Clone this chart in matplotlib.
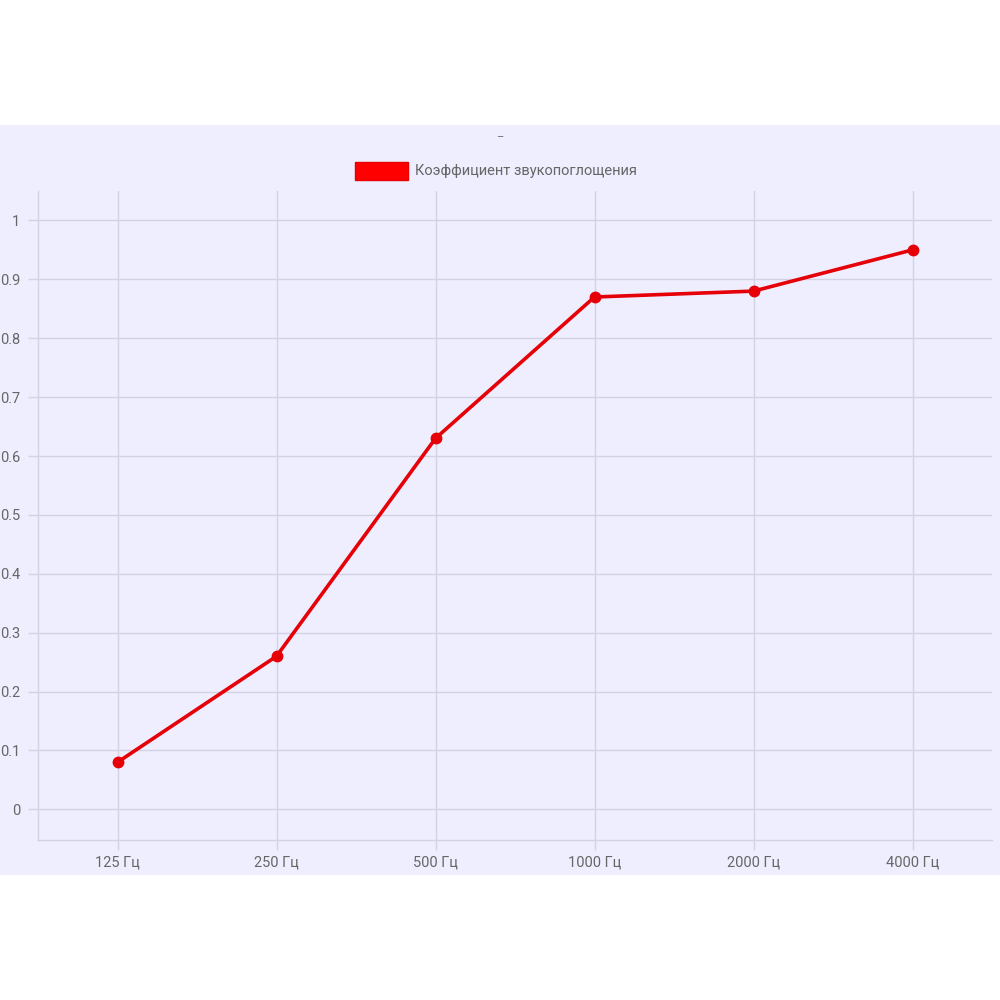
import matplotlib
matplotlib.use("Agg")
import matplotlib.pyplot as plt
import matplotlib.patches as patches

# Данные
categories = ['125 Гц', '250 Гц', '500 Гц', '1000 Гц', '2000 Гц', '4000 Гц']
values = [0.08, 0.26, 0.63, 0.87, 0.88, 0.95]
y_ticks = [0, 0.1, 0.2, 0.3, 0.4, 0.5, 0.6, 0.7, 0.8, 0.9, 1]
series_name = 'Коэффициент звукопоглощения'

plt.rcParams['font.family'] = ['Roboto', 'DejaVu Sans']
txt = '#666666'
grid = '#d3d2e2'

fig = plt.figure(figsize=(10, 10), dpi=100)
fig.patch.set_facecolor('white')
# фон области диаграммы
fig.patches.append(patches.Rectangle((0, 0.125), 1, 0.75, transform=fig.transFigure,
                                     facecolor='#efeefe', edgecolor='none', zorder=-10))

ax = fig.add_axes([0.038, 0.16, 0.954, 0.649])
ax.set_facecolor('none')
ax.set_zorder(5)

x = list(range(len(categories)))
ax.plot(x, values, color='#e60008', linewidth=2.6, marker='o', markersize=7.5,
        markerfacecolor='#e60008', markeredgecolor='#e60008', zorder=3)

ax.set_xlim(-0.5, len(categories) - 0.5)
ax.set_ylim(-0.052, 1.05)
ax.set_xticks(x)
ax.set_xticklabels(categories)
ax.set_yticks(y_ticks)
ax.set_yticklabels([f'{v:g}' for v in y_ticks])
ax.grid(True, color=grid, linewidth=1)
ax.set_axisbelow(True)

for s in ['top', 'right']:
    ax.spines[s].set_visible(False)
for s in ['left', 'bottom']:
    ax.spines[s].set_color(grid)
    ax.spines[s].set_linewidth(1)

ax.tick_params(axis='both', colors=grid, labelcolor=txt, labelsize=10.5, length=7, width=1)
ax.tick_params(axis='y', pad=6)
ax.tick_params(axis='x', pad=4)

# заголовок и легенда
fig.text(0.5, 1 - 0.137, '–', ha='center', va='center', color=txt, fontsize=8)
fig.patches.append(patches.Rectangle((0.355, 1 - 0.180), 0.053, 0.018, transform=fig.transFigure,
                                     facecolor='red', edgecolor='#e60000', zorder=2))
fig.text(0.415, 1 - 0.171, series_name, ha='left', va='center', color=txt, fontsize=10.5)

fig.savefig('out.png', dpi=100)
